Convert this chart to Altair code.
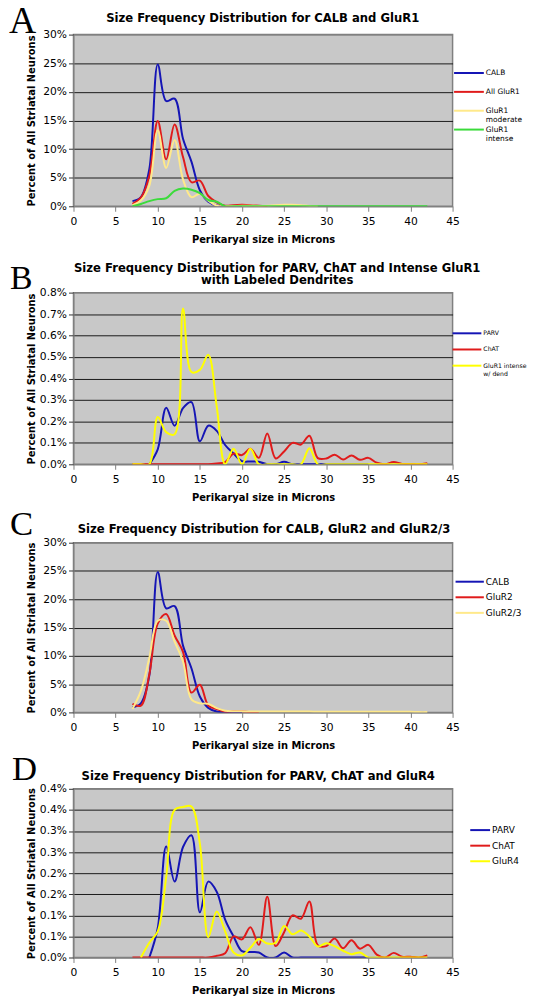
import altair as alt
import pandas as pd

X_TICKS = [0, 5, 10, 15, 20, 25, 30, 35, 40, 45]
FONT = "DejaVu Sans"
SERIF = "Liberation Serif"

# ---------------- Panel A ----------------
A_TITLE = "Size Frequency Distribution for CALB and GluR1"
A_SERIES = ["CALB", "All GluR1", "GluR1 moderate", "GluR1 intense"]
A_COLORS = ["#1515B5", "#E01B1B", "#FFE98A", "#3BDB3B"]
A_YTICKS = [0, 5, 10, 15, 20, 25, 30]

CALB_X = [7, 8, 9, 10, 11, 12, 13, 14, 15, 16, 17, 18, 19, 20]
CALB = [0.9, 1.6, 6.5, 24.8, 18.4, 18.8, 11.8, 7.8, 2.8, 0.8, 0.15, 0.0, 0.0, 0.0]

GLUR1_ALL_X = [7, 8, 9, 10, 11, 12, 13, 14, 15, 16, 17, 18, 19, 20, 21, 22, 23]
GLUR1_ALL = [0.4, 1.5, 5.3, 14.9, 8.2, 14.3, 8.6, 4.2, 4.5, 1.8, 0.7, 0.1, 0.2, 0.25, 0.2, 0.1, 0.0]

GLUR1_MOD_X = [7, 8, 9, 10, 11, 12, 13, 14, 15, 16, 17, 18, 19, 20, 21, 22, 23, 24, 25, 26, 27, 28, 29]
GLUR1_MOD = [0.2, 1.0, 3.6, 13.3, 6.7, 11.6, 4.7, 1.6, 2.2, 1.0, 0.1, 0.0, 0.05, 0.1, 0.1, 0.05,
             0.1, 0.2, 0.25, 0.25, 0.2, 0.05, 0.0]

GLUR1_INT_X = [7, 8, 9, 10, 11, 12, 13, 14, 15, 16, 17, 18, 19, 20, 21, 22, 23, 24, 25, 26, 27, 28,
               29, 30, 31, 32, 33, 34, 35, 36, 37, 38, 39, 40, 41, 42]
GLUR1_INT = [0.0, 0.4, 0.9, 1.25, 1.4, 2.7, 3.1, 2.9, 2.3, 1.1, 0.8, 0.0, 0.0, 0.0, 0.0, 0.0, 0.0,
             0.0, 0.0, 0.0, 0.0, 0.0, 0.0, 0.0, 0.0, 0.0, 0.0, 0.0, 0.0, 0.0, 0.0, 0.0, 0.0, 0.0,
             0.0, 0.0]

# ---------------- Panel B ----------------
B_TITLE = ["Size Frequency Distribution for PARV, ChAT and Intense GluR1", "with Labeled Dendrites"]
B_SERIES = ["PARV", "ChAT", "GluR1 intense w/ dend"]
B_COLORS = ["#1515B5", "#E01B1B", "#FFFF00"]
B_YTICKS = [0.0, 0.1, 0.2, 0.3, 0.4, 0.5, 0.6, 0.7, 0.8]

PARV_X = [9, 10, 11, 12, 13, 14, 15, 16, 17, 18, 19, 20, 21, 22, 23, 24, 25, 26, 27, 28, 29, 30,
          31, 32, 33, 34, 35]
PARV = [0.0, 0.07, 0.263, 0.18, 0.262, 0.29, 0.107, 0.18, 0.156, 0.09, 0.05, 0.015, 0.013, 0.012,
        0.0, 0.0, 0.012, 0.0, 0.0, 0.0, 0.0, 0.0, 0.0, 0.0, 0.0, 0.0, 0.0]

CHAT_X = [7, 8, 9, 10, 11, 12, 13, 14, 15, 16, 17, 18, 19, 20, 21, 22, 23, 24, 25, 26, 27, 28,
          29, 30, 31, 32, 33, 34, 35, 36, 37, 38, 39, 40, 41, 42]
CHAT = [0.0, 0.0, 0.0, 0.0, 0.0, 0.0, 0.0, 0.0, 0.0, 0.0, 0.004, 0.01, 0.05, 0.043, 0.072, 0.03,
        0.144, 0.027, 0.06, 0.1, 0.092, 0.133, 0.029, 0.027, 0.045, 0.022, 0.041, 0.021, 0.03,
        0.007, 0.0, 0.011, 0.002, 0.002, 0.0, 0.005]

GLUR1_DEND_X = [7, 8, 9, 10, 11, 12, 13, 14, 15, 16, 17, 18, 19, 20, 21, 22, 23, 24, 25, 26, 27,
                28, 29, 30, 31, 32, 33, 34, 35, 36, 37, 38, 39, 40, 41, 42]
GLUR1_DEND = [0.0, 0.0, 0.0, 0.22, 0.15, 0.14, 0.726, 0.43, 0.44, 0.51, 0.27, 0.0, 0.073, 0.0,
              0.073, 0.0, 0.0, 0.0, 0.0, 0.0, 0.0, 0.075, 0.0, 0.0, 0.0, 0.0, 0.0, 0.0, 0.0, 0.0,
              0.0, 0.0, 0.0, 0.0, 0.0, 0.0]

# ---------------- Panel C ----------------
C_TITLE = "Size Frequency Distribution for CALB, GluR2 and GluR2/3"
C_SERIES = ["CALB", "GluR2", "GluR2/3"]
C_COLORS = ["#1515B5", "#E01B1B", "#FFE98A"]

GLUR2_X = [7, 8, 9, 10, 11, 12, 13, 14, 15, 16, 17, 18, 19, 20, 21, 22]
GLUR2 = [1.5, 1.2, 6.7, 15.7, 17.4, 13.6, 10.7, 3.5, 4.9, 1.2, 0.6, 0.1, 0.2, 0.2, 0.05, 0.0]

GLUR23_X = [7, 8, 9, 10, 11, 12, 13, 14, 15, 16, 17, 18, 19, 20, 21, 22, 23, 24, 25, 26, 27, 28,
            29, 30, 31, 32, 33, 34, 35, 36, 37, 38, 39, 40, 41, 42]
GLUR23 = [0.6, 3.8, 9.6, 16.2, 16.2, 12.5, 9.0, 2.3, 1.6, 1.5, 0.75, 0.3, 0.2, 0.2, 0.15, 0.15,
          0.15, 0.15, 0.15, 0.15, 0.15, 0.15, 0.1, 0.1, 0.1, 0.1, 0.1, 0.1, 0.1, 0.1, 0.1, 0.1,
          0.1, 0.1, 0.05, 0.05]

# ---------------- Panel D ----------------
D_TITLE = "Size Frequency Distribution for PARV, ChAT and GluR4"
D_SERIES = ["PARV", "ChAT", "GluR4"]
D_COLORS = ["#1515B5", "#E01B1B", "#FFFF00"]
D_YTICKS = [0.0, 0.05, 0.1, 0.15, 0.2, 0.25, 0.3, 0.35, 0.4]
D_YLABELS = ["0.0%", "0.1%", "0.1%", "0.2%", "0.2%", "0.3%", "0.3%", "0.4%", "0.4%"]

GLUR4_X = [8, 9, 10, 11, 12, 13, 14, 15, 16, 17, 18, 19, 20, 21, 22, 23, 24, 25, 26, 27, 28, 29,
           30, 31, 32, 33, 34, 35, 36, 37, 38, 39, 40, 41, 42]
GLUR4 = [0.0, 0.035, 0.062, 0.19, 0.35, 0.357, 0.358, 0.27, 0.048, 0.109, 0.062, 0.012, 0.005,
         0.023, 0.044, 0.033, 0.035, 0.075, 0.055, 0.064, 0.05, 0.026, 0.034, 0.027, 0.016, 0.008,
         0.012, 0.0, 0.0, 0.0, 0.0, 0.0, 0.0, 0.0, 0.0]

LEGEND_LINES = {
    "GluR1 moderate": ["GluR1", "moderate"],
    "GluR1 intense": ["GluR1", "intense"],
    "GluR1 intense w/ dend": ["GluR1 intense", "w/ dend"],
}

WIDTH = 382


def table(series):
    rows = []
    for name, xs, vs in series:
        for x, v in zip(xs, vs):
            rows.append({"size": x, "pct": v, "series": name})
    return pd.DataFrame(rows)


def label_expr(names):
    expr = "datum.label"
    for n in names:
        if n in LEGEND_LINES:
            parts = ", ".join("'" + p + "'" for p in LEGEND_LINES[n])
            expr = "datum.label == '" + n + "' ? [" + parts + "] : (" + expr + ")"
    return expr


def panel(df, names, colors, yticks, ylab_expr, title, title_x, title_y, letter, letter_x,
          letter_y, letter_size, letter_ext, height, leg_x, leg_y, leg_font, leg_path, leg_row,
          leg_align):
    ymax = yticks[-1]
    grid_color = {
        "condition": {"test": f"datum.value <= 0 || datum.value >= {ymax} - 1e-9", "value": "#808080"},
        "value": "#1a1a1a",
    }
    lines = alt.Chart(df).mark_line(interpolate="catmull-rom", strokeWidth=2, clip=True).encode(
        x=alt.X("size:Q", scale=alt.Scale(domain=[0, 45], nice=False),
                axis=alt.Axis(values=X_TICKS, grid=False, domainColor="#808080", domainWidth=1,
                              tickColor="#808080", tickSize=5, labelFont=FONT, labelFontSize=10.8,
                              labelColor="#000000", labelPadding=4, labelFlush=False,
                              title="Perikaryal size in Microns", titleFont=FONT, titleFontSize=10,
                              titleFontWeight="bold", titleColor="#000000", titleBaseline="middle",
                              titleY=33)),
        y=alt.Y("pct:Q", scale=alt.Scale(domain=[0, ymax], nice=False),
                axis=alt.Axis(values=yticks, labelExpr=ylab_expr, grid=True, gridColor=grid_color,
                              gridWidth=1, domainColor="#808080", domainWidth=1, tickColor="#333333",
                              tickSize=5, labelFont=FONT, labelFontSize=10.8, labelColor="#000000",
                              labelPadding=2, labelFlush=False,
                              title="Percent of All Striatal Neurons", titleFont=FONT,
                              titleFontSize=10, titleFontWeight="bold", titleColor="#000000",
                              titleBaseline="middle", titleX=-42, titleY=height / 2)),
        color=alt.Color("series:N", scale=alt.Scale(domain=names, range=colors),
                        legend=alt.Legend(orient="none", legendX=leg_x, legendY=leg_y, title=None,
                                          direction="vertical", padding=0, symbolType=leg_path,
                                          symbolSize=100, symbolStrokeWidth=2,
                                          labelFont=FONT, labelFontSize=leg_font,
                                          labelColor="#000000", labelOffset=1,
                                          labelLimit=0, rowPadding=leg_row, gridAlign=leg_align,
                                          labelExpr=label_expr(names))),
    )
    one = pd.DataFrame({"k": [letter]})
    text_val = ["", letter] if letter_ext > 0 else letter
    letter_layer = alt.Chart(one).mark_text(
        text=text_val, font=SERIF, fontSize=letter_size, align="left", baseline="alphabetic",
        color="#000000", lineHeight=letter_ext if letter_ext > 0 else letter_size,
    ).encode(x=alt.value(letter_x), y=alt.value(letter_y - letter_ext))
    title_layer = alt.Chart(one).mark_text(
        text=title, font=FONT, fontSize=11.7, fontWeight="bold", align="center",
        baseline="alphabetic", color="#000000", lineHeight=12.6,
    ).encode(x=alt.value(title_x), y=alt.value(title_y))
    return alt.layer(lines, title_layer, letter_layer).properties(width=WIDTH, height=height)


pct_expr = "datum.value + '%'"
b_expr = "format(datum.value, '.1f') + '%'"
d_expr = "[" + ", ".join("'" + s + "'" for s in D_YLABELS) + "][round(datum.value * 20)]"

dfA = table([("CALB", CALB_X, CALB), ("All GluR1", GLUR1_ALL_X, GLUR1_ALL),
             ("GluR1 moderate", GLUR1_MOD_X, GLUR1_MOD), ("GluR1 intense", GLUR1_INT_X, GLUR1_INT)])
dfB = table([("PARV", PARV_X, PARV), ("ChAT", CHAT_X, CHAT),
             ("GluR1 intense w/ dend", GLUR1_DEND_X, GLUR1_DEND)])
dfC = table([("CALB", CALB_X, CALB), ("GluR2", GLUR2_X, GLUR2), ("GluR2/3", GLUR23_X, GLUR23)])
dfD = table([("PARV", PARV_X, PARV), ("ChAT", CHAT_X, CHAT), ("GluR4", GLUR4_X, GLUR4)])

pA = panel(dfA, A_SERIES, A_COLORS, A_YTICKS, pct_expr, A_TITLE, 190.7, -12.4, "A", -65, -1.3, 38,
           0, 173, 402.5, 32.7, 7.5, "M-5,0H1", 0, "all")
pB = panel(dfB, B_SERIES, B_COLORS, B_YTICKS, b_expr, B_TITLE, 205.3, -20.8, "B", -64, -3.8, 34,
           16, 173, 400, 35, 6.2, "M-4.8,0H1", 6.3, "each")
pC = panel(dfC, C_SERIES, C_COLORS, A_YTICKS, pct_expr, C_TITLE, 192, -10.1, "C", -64, -7.7, 35,
           2.6, 171, 402.5, 33.3, 9, "M-4.7,0H1", 4.7, "each")
pD = panel(dfD, D_SERIES, D_COLORS, D_YTICKS, d_expr, D_TITLE, 186.2, -9.2, "D", -62, -8.4, 35,
           0, 170, 408.8, 35.6, 9, "M-3,0H1", 4.7, "each")

chart = alt.vconcat(pA, pB, pC, pD, spacing=0).resolve_scale(
    color="independent", x="independent", y="independent"
).resolve_legend(color="independent").properties(
    padding={"left": 0, "top": -10, "right": 0, "bottom": 0}
).configure_view(fill="#C8C8C8", stroke="#808080", strokeWidth=1.5)

chart.save("out.html", embed_options={"renderer": "svg", "actions": False})
